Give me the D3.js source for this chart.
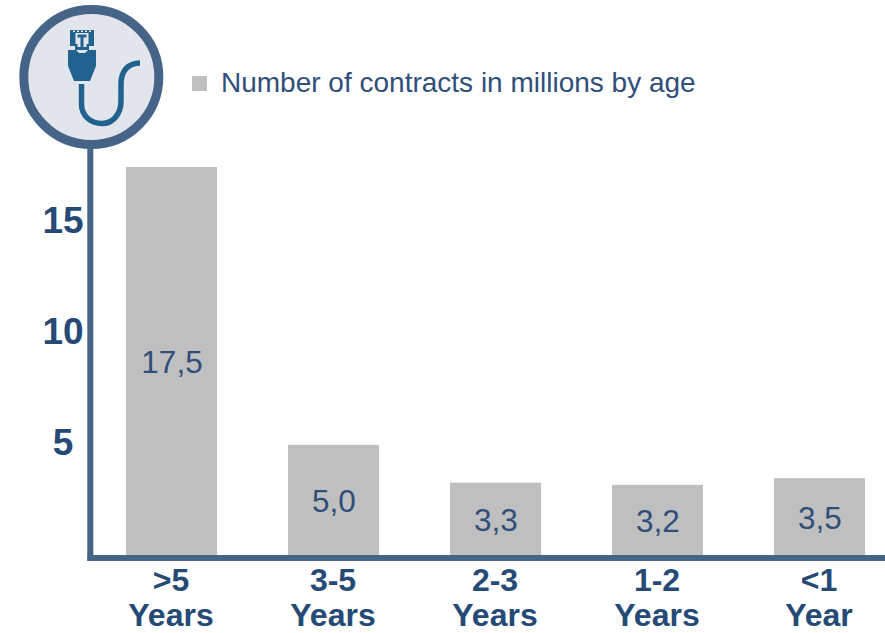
<!DOCTYPE html>
<html>
<head>
<meta charset="utf-8">
<script src="https://cdn.jsdelivr.net/npm/d3@7"></script>
<style>
html,body{margin:0;padding:0;background:#fff}
svg{display:block}
text{font-family:"Liberation Sans",Arial,sans-serif}
</style>
</head>
<body>
<svg id="chart" width="885" height="633"></svg>
<script>
// Contract counts by age group, in millions
const ageGroups = [">5", "3-5", "2-3", "1-2", "<1"];
const ageUnits = ["Years", "Years", "Years", "Years", "Year"];
const contracts = [17.5, 5.0, 3.3, 3.2, 3.5];
const valueLabels = ["17,5", "5,0", "3,3", "3,2", "3,5"];
const yTicks = [5, 10, 15];
const legendLabel = "Number of contracts in millions by age";

const barGrey = "#bfbfbf", axisBlue = "#466488", textBlue = "#264a76", iconBlue = "#22628f", valueBlue = "#2f4f7a", badgeFill = "#e2e5eb";
const svg = d3.select("#chart");

const x = d3.scaleBand().domain(ageGroups).range([90.5, 900.5]).paddingInner(0.438).paddingOuter(0.219);
const y = d3.scaleLinear().domain([0, 17.5]).range([556, 167]);

// Bars
svg.append("g").selectAll("rect").data(contracts).join("rect")
  .attr("x", (d, i) => x(ageGroups[i]))
  .attr("y", d => y(d))
  .attr("width", x.bandwidth())
  .attr("height", d => y(0) - y(d))
  .attr("fill", barGrey);

// Value labels, centred inside each bar
svg.append("g").selectAll("text").data(contracts).join("text")
  .attr("x", (d, i) => x(ageGroups[i]) + x.bandwidth() / 2 + 0.5)
  .attr("y", d => (y(d) + y(0)) / 2 + 11.5)
  .attr("text-anchor", "middle")
  .attr("font-size", 31.5)
  .attr("fill", valueBlue)
  .text((d, i) => valueLabels[i]);

// Y axis: centred labels only, the line is drawn separately below the icon
const yAxis = svg.append("g").attr("transform", "translate(63,-3)")
  .call(d3.axisLeft(y).tickValues(yTicks).tickSize(0).tickPadding(0));
yAxis.select(".domain").remove();
yAxis.selectAll("text")
  .attr("x", 0).attr("dy", "0.35em").attr("text-anchor", "middle")
  .attr("font-size", 37).attr("font-weight", 700).attr("fill", textBlue)
  .style("font-family", '"Liberation Sans",Arial,sans-serif');

// Axis lines
svg.append("line").attr("x1", 90.3).attr("x2", 90.3).attr("y1", 140).attr("y2", 561)
  .attr("stroke", axisBlue).attr("stroke-width", 6);
svg.append("line").attr("x1", 87.5).attr("x2", 885).attr("y1", 558).attr("y2", 558)
  .attr("stroke", axisBlue).attr("stroke-width", 6);

// Category labels on two lines
const cats = svg.append("g").selectAll("text").data(ageGroups).join("text")
  .attr("text-anchor", "middle").attr("font-size", 32).attr("font-weight", 700).attr("fill", textBlue);
cats.append("tspan").attr("x", d => x(d) + x.bandwidth() / 2 - 0.5).attr("y", 591).text(d => d);
cats.append("tspan").attr("x", d => x(d) + x.bandwidth() / 2 - 0.5).attr("y", 626).text((d, i) => ageUnits[i]);

// Legend
svg.append("rect").attr("x", 192).attr("y", 76).attr("width", 15).attr("height", 15).attr("fill", barGrey);
svg.append("text").attr("x", 221).attr("y", 92).attr("font-size", 28).attr("fill", valueBlue).text(legendLabel);

// Network cable badge
const badge = svg.append("g");
badge.append("circle").attr("cx", 91.3).attr("cy", 77).attr("r", 67.5)
  .attr("fill", badgeFill).attr("stroke", axisBlue).attr("stroke-width", 9);
// Connector housing with its contact slots cut out
badge.append("path").attr("fill", iconBlue)
  .attr("d", "M70 30H94V46H89V50H75V46H70Z");
badge.append("path").attr("fill", badgeFill)
  .attr("d", "M75.5 33H77.5V44H75.5Z M86.5 33H88.5V44H86.5Z M77.5 33H86.5V34.5H77.5Z M77.5 37.5H80.5V47H77.5Z M83.5 37.5H86.5V47H83.5Z");
badge.append("path").attr("fill", badgeFill)
  .attr("d", "M73 30.5h2v1.5h-2Z M77 30.5h2v1.5h-2Z M81 30.5h2v1.5h-2Z M85 30.5h2v1.5h-2Z M89 30.5h2v1.5h-2Z");
// Plug body
badge.append("path").attr("fill", iconBlue)
  .attr("d", "M68 50H76L79 53H85L88 50H96V66L90 81H74L68 66Z");
// Cable
badge.append("path").attr("fill", "none").attr("stroke", iconBlue).attr("stroke-width", 5.5)
  .attr("d", "M81.5 84V104C81.5 116 91 123.5 102 123.5C113 123.5 121 114 121 101V84C121 71 128 63 140 63");
</script>
</body>
</html>
